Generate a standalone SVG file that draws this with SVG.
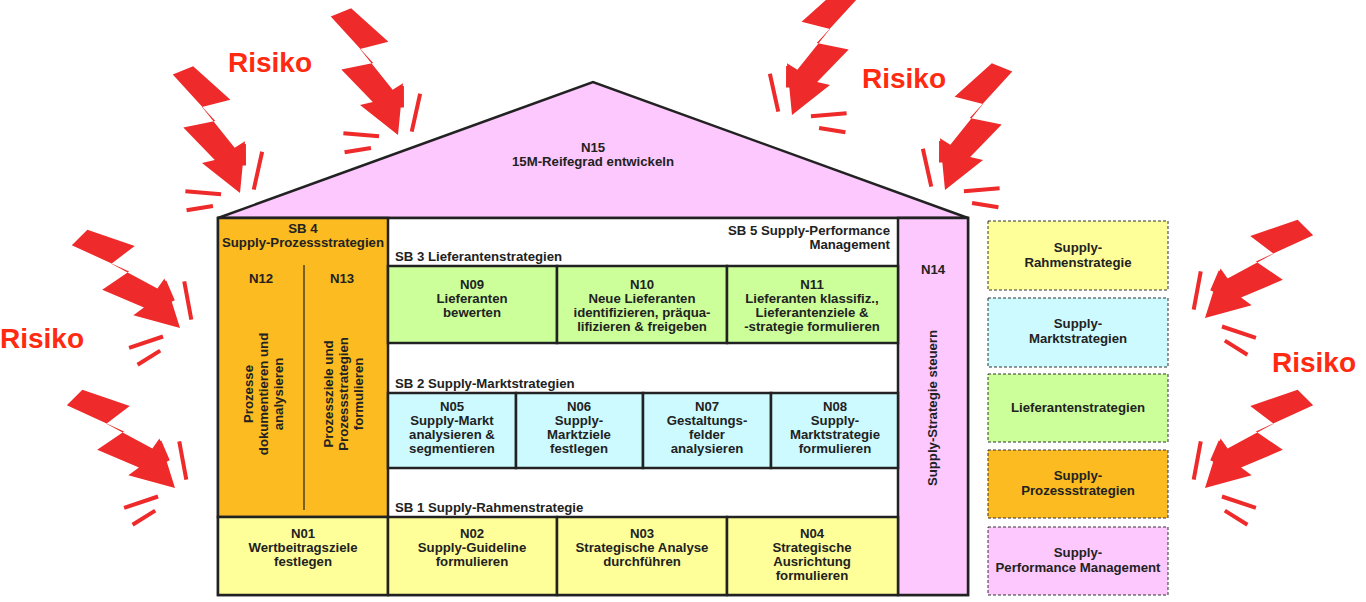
<svg xmlns="http://www.w3.org/2000/svg" width="1366" height="602" viewBox="0 0 1366 602">
<style>
text{font-family:"Liberation Sans",Arial,sans-serif;font-weight:bold;font-size:13.2px;fill:#222}
.c{text-anchor:middle}
.b{stroke:#222;stroke-width:2.5}
.l{stroke:#222;stroke-width:1.2;fill:none}
.r{font-size:28px;fill:#ff2a10}
.lg{stroke:#333;stroke-width:1;stroke-dasharray:3,2}
.sp{stroke:#ee2a2a;stroke-width:4;fill:none}
</style>
<defs>
<g id="bolt">
<path d="M0,0 L-24,-42 L-11,-40 L-28,-82 L4,-76 L-18,-135 L4,-135 L26,-90 L-3,-94 L12,-44 L24,-46 Z" fill="#ee2a2a"/>
<path class="sp" d="M-50,-22 L-18,-6 M-56,-4 L-30,2 M8,-48 L10,-38 M22,-44 L14,-24 M36,-30 L14,2"/>
</g>
</defs>
<rect width="1366" height="602" fill="#fff"/>
<g id="roof"><path class="b" d="M218,218 L593,82 L968,218 Z" fill="#fdc8fd"/>
<text class="c" x="593" y="152">N15</text><text class="c" x="593" y="166">15M-Reifegrad entwickeln</text></g>
<g id="house"><rect class="b" x="218" y="218" width="750" height="377" fill="#fff"/></g>
<g id="sb4"><rect class="b" x="218" y="218" width="170" height="299" fill="#fbbb21"/>
<text class="c" x="303" y="233">SB 4</text><text class="c" x="303" y="247">Supply-Prozessstrategien</text>
<line class="l" x1="304" y1="265" x2="304" y2="510"/></g>
<g id="N12"><text class="c" x="261" y="283">N12</text>
<text class="c" transform="translate(253,394) rotate(-90)">Prozesse</text>
<text class="c" transform="translate(268,394) rotate(-90)">dokumentieren und</text>
<text class="c" transform="translate(283,394) rotate(-90)">analysieren</text></g>
<g id="N13"><text class="c" x="342" y="283">N13</text>
<text class="c" transform="translate(333,394) rotate(-90)">Prozessziele und</text>
<text class="c" transform="translate(348,394) rotate(-90)">Prozessstrategien</text>
<text class="c" transform="translate(363,394) rotate(-90)">formulieren</text></g>
<g id="N14"><rect class="b" x="898" y="218" width="70" height="377" fill="#fdc8fd"/>
<text class="c" x="933" y="274">N14</text>
<text class="c" transform="translate(937,408) rotate(-90)">Supply-Strategie steuern</text></g>
<g id="labels">
<text x="890" y="235" text-anchor="end">SB 5 Supply-Performance</text>
<text x="890" y="249" text-anchor="end">Management</text>
<text x="395" y="261">SB 3 Lieferantenstrategien</text>
<text x="395" y="388">SB 2 Supply-Marktstrategien</text>
<text x="395" y="512">SB 1 Supply-Rahmenstrategie</text></g>
<g id="N09"><rect class="b" x="388" y="266" width="169" height="77" fill="#ccff99"/><text class="c" x="472" y="289">N09</text><text class="c" x="472" y="303">Lieferanten</text><text class="c" x="472" y="317">bewerten</text></g>
<g id="N10"><rect class="b" x="557" y="266" width="170" height="77" fill="#ccff99"/><text class="c" x="642" y="289">N10</text><text class="c" x="642" y="303">Neue Lieferanten</text><text class="c" x="642" y="317">identifizieren, präqua-</text><text class="c" x="642" y="331">lifizieren &amp; freigeben</text></g>
<g id="N11"><rect class="b" x="727" y="266" width="171" height="77" fill="#ccff99"/><text class="c" x="812" y="289">N11</text><text class="c" x="812" y="303">Lieferanten klassifiz.,</text><text class="c" x="812" y="317">Lieferantenziele &amp;</text><text class="c" x="812" y="331">-strategie formulieren</text></g>
<g id="N05"><rect class="b" x="388" y="393" width="128" height="75" fill="#ccfaff"/><text class="c" x="452" y="411">N05</text><text class="c" x="452" y="425">Supply-Markt</text><text class="c" x="452" y="439">analysieren &amp;</text><text class="c" x="452" y="453">segmentieren</text></g>
<g id="N06"><rect class="b" x="516" y="393" width="127" height="75" fill="#ccfaff"/><text class="c" x="579" y="411">N06</text><text class="c" x="579" y="425">Supply-</text><text class="c" x="579" y="439">Marktziele</text><text class="c" x="579" y="453">festlegen</text></g>
<g id="N07"><rect class="b" x="643" y="393" width="128" height="75" fill="#ccfaff"/><text class="c" x="707" y="411">N07</text><text class="c" x="707" y="425">Gestaltungs-</text><text class="c" x="707" y="439">felder</text><text class="c" x="707" y="453">analysieren</text></g>
<g id="N08"><rect class="b" x="771" y="393" width="127" height="75" fill="#ccfaff"/><text class="c" x="835" y="411">N08</text><text class="c" x="835" y="425">Supply-</text><text class="c" x="835" y="439">Marktstrategie</text><text class="c" x="835" y="453">formulieren</text></g>
<g id="N01"><rect class="b" x="218" y="517" width="170" height="78" fill="#ffff99"/><text class="c" x="303" y="538">N01</text><text class="c" x="303" y="552">Wertbeitragsziele</text><text class="c" x="303" y="566">festlegen</text></g>
<g id="N02"><rect class="b" x="388" y="517" width="169" height="78" fill="#ffff99"/><text class="c" x="472" y="538">N02</text><text class="c" x="472" y="552">Supply-Guideline</text><text class="c" x="472" y="566">formulieren</text></g>
<g id="N03"><rect class="b" x="557" y="517" width="170" height="78" fill="#ffff99"/><text class="c" x="642" y="538">N03</text><text class="c" x="642" y="552">Strategische Analyse</text><text class="c" x="642" y="566">durchführen</text></g>
<g id="N04"><rect class="b" x="727" y="517" width="171" height="78" fill="#ffff99"/><text class="c" x="812" y="538">N04</text><text class="c" x="812" y="552">Strategische</text><text class="c" x="812" y="566">Ausrichtung</text><text class="c" x="812" y="580">formulieren</text></g>
<g id="legend">
<rect class="lg" x="988" y="221" width="180" height="69" fill="#ffff99"/><text class="c" x="1078" y="252">Supply-</text><text class="c" x="1078" y="267">Rahmenstrategie</text>
<rect class="lg" x="988" y="298" width="180" height="69" fill="#ccfaff"/><text class="c" x="1078" y="328">Supply-</text><text class="c" x="1078" y="343">Marktstrategien</text>
<rect class="lg" x="988" y="374" width="180" height="68" fill="#ccff99"/><text class="c" x="1078" y="412">Lieferantenstrategien</text>
<rect class="lg" x="988" y="450" width="180" height="68" fill="#fbbb21"/><text class="c" x="1078" y="480">Supply-</text><text class="c" x="1078" y="495">Prozessstrategien</text>
<rect class="lg" x="988" y="527" width="180" height="68" fill="#fdc8fd"/><text class="c" x="1078" y="557">Supply-</text><text class="c" x="1078" y="572">Performance Management</text></g>
<g id="risks">
<use href="#bolt" transform="translate(240,193) rotate(-22)"/>
<use href="#bolt" transform="translate(398,135) rotate(-22)"/>
<use href="#bolt" transform="translate(792,115) scale(-1,1) rotate(-22)"/>
<use href="#bolt" transform="translate(945,190) scale(-1,1) rotate(-22)"/>
<use href="#bolt" transform="translate(180,328) rotate(-45)"/>
<use href="#bolt" transform="translate(175,488) rotate(-45)"/>
<use href="#bolt" transform="translate(1205,318) scale(-1,1) rotate(-45)"/>
<use href="#bolt" transform="translate(1205,488) scale(-1,1) rotate(-45)"/>
<text class="r" x="228" y="72">Risiko</text>
<text class="r" x="862" y="88">Risiko</text>
<text class="r" x="0" y="348">Risiko</text>
<text class="r" x="1272" y="372">Risiko</text></g>
</svg>
